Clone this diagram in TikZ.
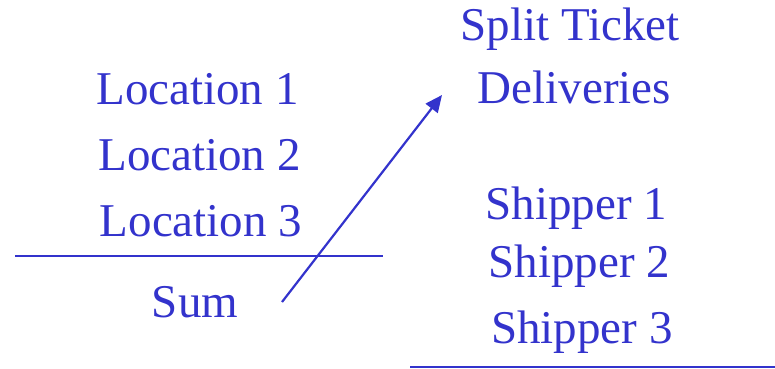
\documentclass[tikz,border=0pt]{standalone}
\usepackage{fontspec}
\setmainfont{Liberation Serif}
\usetikzlibrary{arrows.meta}
\definecolor{txtblue}{RGB}{51,51,204}
\tikzset{
  lbl/.style={anchor=base, inner sep=0pt, text=txtblue, font=\fontsize{47}{56}\selectfont},
  rule/.style={draw=txtblue, line width=2pt},
  arr/.style={draw=txtblue, line width=2.2pt, -{Triangle[length=17pt,width=15pt]}}
}
\begin{document}
\begin{tikzpicture}[x=1pt,y=-1pt]
\useasboundingbox (0,0) rectangle (775,368);
\node[lbl] (loc1) at (197.5,104) {Location 1};
\node[lbl] (loc2) at (199.5,170.5) {Location 2};
\node[lbl] (loc3) at (201,236) {Location 3};
\node[lbl] (sum) at (195,317) {Sum};
\node[lbl] (split) at (570,40) {Split Ticket};
\node[lbl] (deliv) at (574.5,103.5) {Deliveries};
\node[lbl] (ship1) at (576.5,219) {Shipper 1};
\node[lbl] (ship2) at (579.5,277) {Shipper 2};
\node[lbl] (ship3) at (582,343) {Shipper 3};
\coordinate (l1a) at (15,255.5);
\coordinate (l1b) at (383,255.5);
\coordinate (l2a) at (410,366.5);
\coordinate (l2b) at (775,366.5);
\coordinate (as) at (282,302);
\coordinate (ae) at (442,95);
\draw[rule] (l1a) -- (l1b);
\draw[rule] (l2a) -- (l2b);
\draw[arr] (as) -- (ae);
\end{tikzpicture}
\end{document}
